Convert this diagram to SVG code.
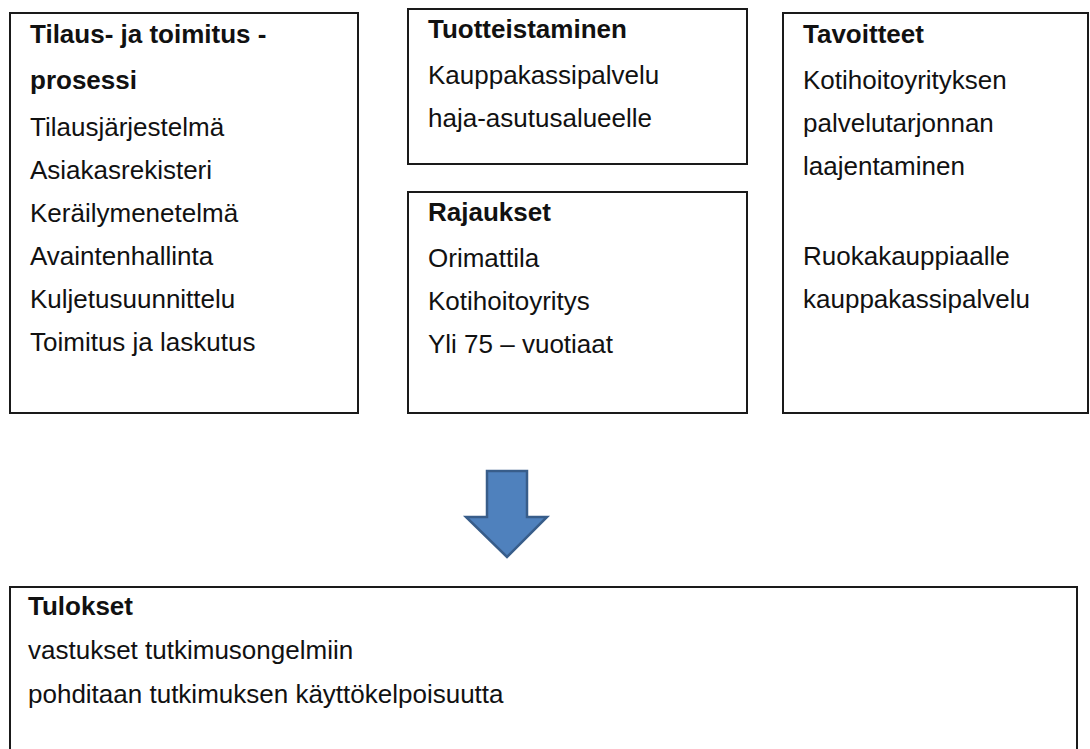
<svg xmlns="http://www.w3.org/2000/svg" width="1090" height="749" viewBox="0 0 1090 749">
<style>
.box{fill:#fff;stroke:#1a1a1a;stroke-width:2}
text{font-family:"Liberation Sans",Arial,sans-serif;font-size:26px;fill:#111}
.h{font-weight:bold}
.arrow{fill:#4F81BD;stroke:#385D8A;stroke-width:2.5;stroke-linejoin:miter}
</style>
<rect width="1090" height="749" fill="#fff"/>
<g id="tilaus">
<rect class="box" x="10" y="13" width="348" height="400"/>
<text class="h" x="30" y="43">Tilaus- ja toimitus -</text>
<text class="h" x="30" y="89">prosessi</text>
<text x="30" y="136">Tilausjärjestelmä</text>
<text x="30" y="179">Asiakasrekisteri</text>
<text x="30" y="222">Keräilymenetelmä</text>
<text x="30" y="265">Avaintenhallinta</text>
<text x="30" y="308">Kuljetusuunnittelu</text>
<text x="30" y="351">Toimitus ja laskutus</text>
</g>
<g id="tuotteistaminen">
<rect class="box" x="408" y="9" width="339" height="155"/>
<text class="h" x="428" y="38">Tuotteistaminen</text>
<text x="428" y="84">Kauppakassipalvelu</text>
<text x="428" y="127">haja-asutusalueelle</text>
</g>
<g id="rajaukset">
<rect class="box" x="408" y="192" width="339" height="221"/>
<text class="h" x="428" y="221">Rajaukset</text>
<text x="428" y="267">Orimattila</text>
<text x="428" y="310">Kotihoitoyritys</text>
<text x="428" y="353">Yli 75 – vuotiaat</text>
</g>
<g id="tavoitteet">
<rect class="box" x="783" y="13" width="305" height="400"/>
<text class="h" x="803" y="43">Tavoitteet</text>
<text x="803" y="89">Kotihoitoyrityksen</text>
<text x="803" y="132">palvelutarjonnan</text>
<text x="803" y="175">laajentaminen</text>
<text x="803" y="265">Ruokakauppiaalle</text>
<text x="803" y="308">kauppakassipalvelu</text>
</g>
<g id="connectors">
<path class="arrow" d="M487,471 L527,471 L527,517 L547,517 L507,557 L466,517 L487,517 Z"/>
</g>
<g id="tulokset">
<rect class="box" x="10" y="587" width="1067" height="200"/>
<text class="h" x="28" y="615">Tulokset</text>
<text x="28" y="659">vastukset tutkimusongelmiin</text>
<text x="28" y="703">pohditaan tutkimuksen käyttökelpoisuutta</text>
</g>
</svg>
